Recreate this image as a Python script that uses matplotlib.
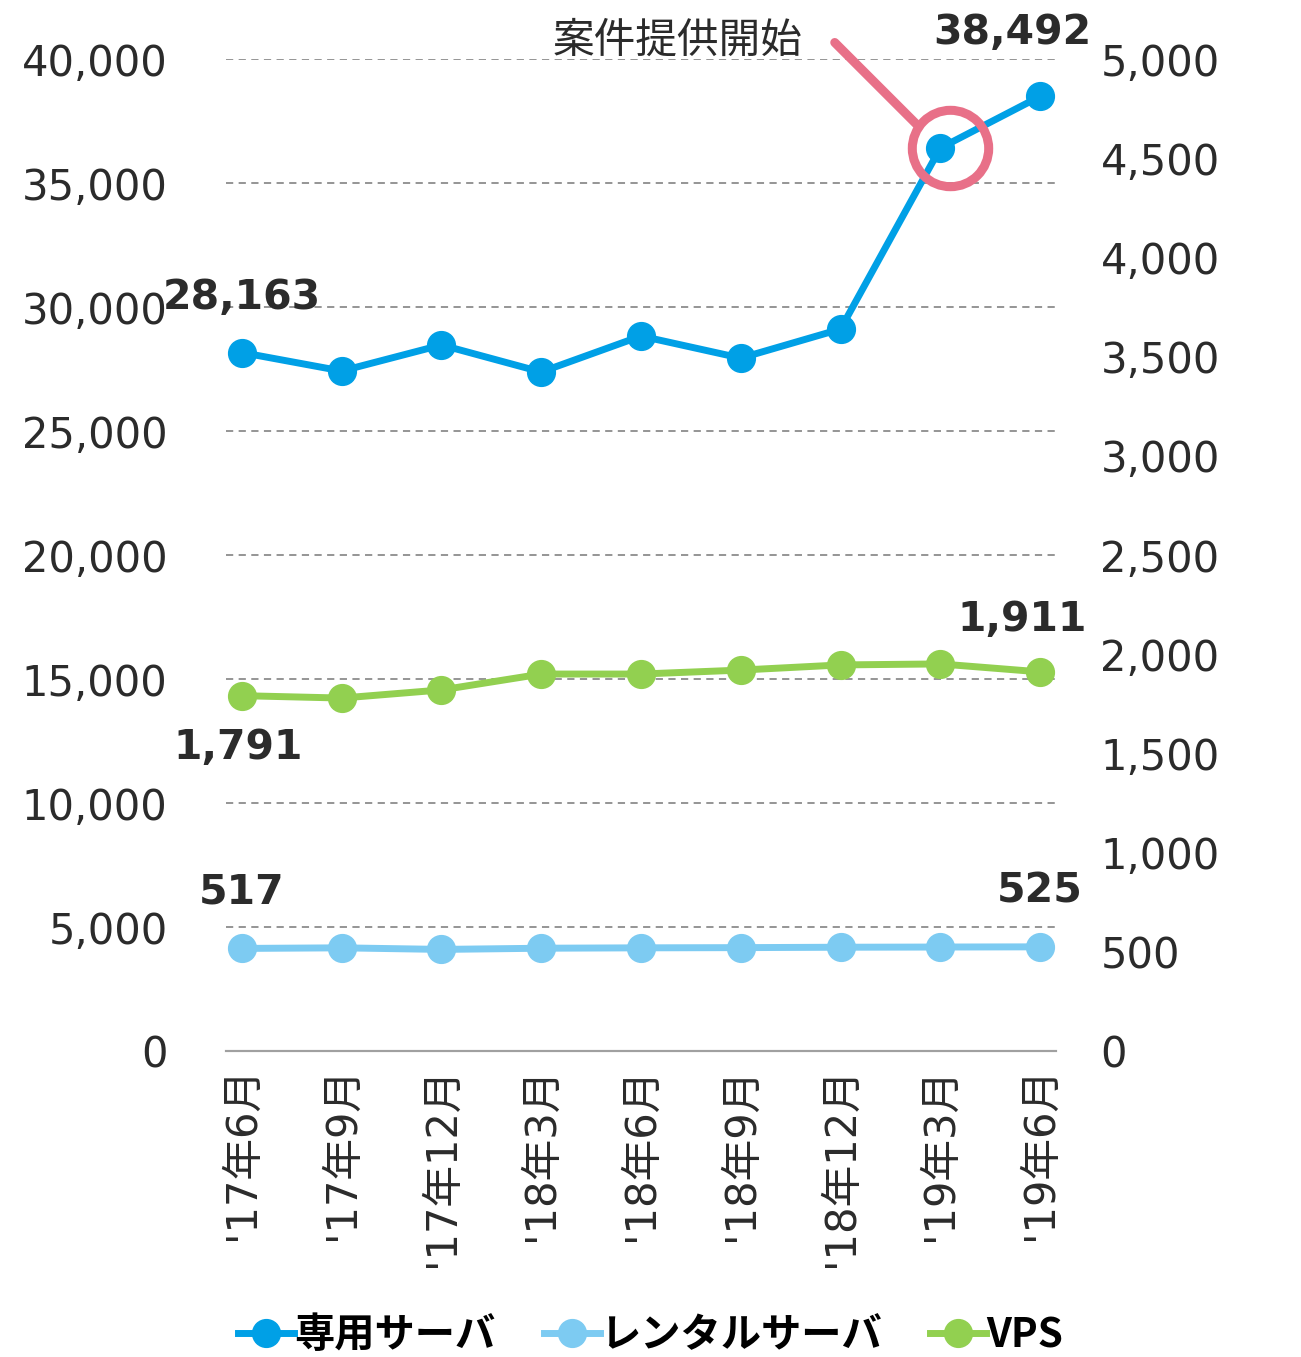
import matplotlib.pyplot as plt
from matplotlib.lines import Line2D
from matplotlib.ticker import FuncFormatter

plt.rcParams['font.family'] = ['DejaVu Sans', 'Noto Sans CJK JP']

months = ["'17年6月", "'17年9月", "'17年12月", "'18年3月", "'18年6月",
          "'18年9月", "'18年12月", "'19年3月", "'19年6月"]
dedicated = [28163, 27420, 28470, 27380, 28830, 27940, 29110, 36410, 38492]
rental = [517, 520, 512, 518, 520, 521, 523, 524, 525]
vps = [1791, 1779, 1820, 1900, 1900, 1920, 1946, 1951, 1911]

c_ded = '#00A0E6'
c_ren = '#7DCBF2'
c_vps = '#92D050'
c_pink = '#E87088'
c_text = '#2B2B2B'
num_font = ['DejaVu Sans']
mix_font = ['DejaVu Sans', 'Noto Sans CJK JP']

fig = plt.figure(figsize=(13.01, 13.57), dpi=100)
ax = fig.add_axes([0.1737, 0.2255, 0.638, 0.731])
ax2 = ax.twinx()

x = list(range(len(months)))
ax.plot(x, dedicated, color=c_ded, lw=5, marker='o', ms=20, zorder=3)
ax2.plot(x, vps, color=c_vps, lw=5, marker='o', ms=20, zorder=3)
ax2.plot(x, rental, color=c_ren, lw=5, marker='o', ms=20, zorder=3)

ax.set_xlim(-0.16, 8.16)
ax.set_ylim(0, 40000)
ax2.set_ylim(0, 5000)
ax.set_yticks(range(0, 40001, 5000))
ax2.set_yticks(range(0, 5001, 500))
fmt = FuncFormatter(lambda v, p: f'{int(v):,}')
ax.yaxis.set_major_formatter(fmt)
ax2.yaxis.set_major_formatter(fmt)

ax.set_xticks(x)
ax.set_xticklabels(months, rotation=90, fontsize=30, color=c_text, family=mix_font)
ax.tick_params(axis='x', length=0, pad=11)
ax.tick_params(axis='y', length=0, pad=42, labelsize=30, labelcolor=c_text)
ax2.tick_params(axis='y', length=0, pad=32, labelsize=30, labelcolor=c_text)
for t in ax.get_yticklabels() + ax2.get_yticklabels():
    t.set_family(num_font)

ax.grid(axis='y', color='#8C8C8C', ls=(0, (4, 3)), lw=1.3)
ax.set_axisbelow(True)
for a in (ax, ax2):
    for s in ('top', 'left', 'right'):
        a.spines[s].set_visible(False)
    a.spines['bottom'].set_color('#A0A0A0')
    a.spines['bottom'].set_linewidth(1.5)

lab = dict(textcoords='offset points', ha='center', va='center', family=num_font,
           fontsize=29.5, fontweight='bold', color=c_text, annotation_clip=False)
ax.annotate(f'{dedicated[0]:,}', (0, dedicated[0]), xytext=(0, 39), **lab)
ax.annotate(f'{dedicated[-1]:,}', (8, dedicated[-1]), xytext=(-20, 46), **lab)
ax2.annotate(f'{vps[0]:,}', (0, vps[0]), xytext=(-3, -38), **lab)
ax2.annotate(f'{vps[-1]:,}', (8, vps[-1]), xytext=(-13, 37), **lab)
ax2.annotate(f'{rental[0]:,}', (0, rental[0]), xytext=(0, 40), **lab)
ax2.annotate(f'{rental[-1]:,}', (8, rental[-1]), xytext=(0, 40), **lab)

# callout on '19年3月
ax.plot([7.1], [dedicated[7]], marker='o', ms=55, mfc='none', mec=c_pink,
        mew=6.5, zorder=4)
ax.annotate('', (7, dedicated[7]), xytext=(-76, 76), textcoords='offset points',
            arrowprops=dict(arrowstyle='-', color=c_pink, lw=6.5, shrinkA=0, shrinkB=22),
            annotation_clip=False, zorder=4)
ax.annotate('案件提供開始', (7, dedicated[7]), xytext=(-189, 77),
            textcoords='offset points', ha='center', va='center', fontsize=30,
            color=c_text, family=['Noto Sans CJK JP'], annotation_clip=False)

handles = [Line2D([], [], color=c, lw=5, marker='o', ms=20) for c in (c_ded, c_ren, c_vps)]
fig.legend(handles, ['専用サーバ', 'レンタルサーバ', 'VPS'], loc='lower center',
           bbox_to_anchor=(0.5, -0.026), ncol=3, frameon=False, handlelength=1.4,
           handletextpad=0.0, columnspacing=1.2,
           prop=dict(family=['Noto Sans CJK JP'], weight='bold', size=29))

fig.savefig('out.png', dpi=100)
